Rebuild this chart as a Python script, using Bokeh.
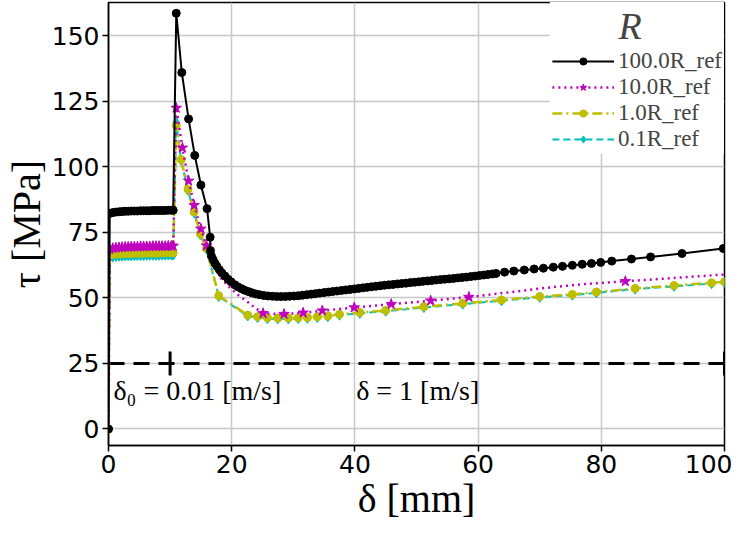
from bokeh.plotting import figure
from bokeh.models import ColumnDataSource, Legend, LegendItem, FixedTicker
from bokeh.embed import file_html
from bokeh.resources import INLINE
from bokeh.core.properties import value

# ---------------- data ----------------
x_ticks = [0, 20, 40, 60, 80, 100]
y_ticks = [0, 25, 50, 75, 100, 125, 150]

origin_x = [0.0]
origin_y = [0.0]

# slip during the low-velocity phase (shared by all four runs)
flat_x = [0.2, 0.7, 1.2, 1.7, 2.2, 2.7, 3.2, 3.7, 4.2, 4.7, 5.2, 5.7, 6.2, 6.7,
          7.2, 7.7, 8.2, 8.7, 9.2, 9.7, 10.2, 10.5]

# R = 100.0 R_ref
black_flat_y = [82.2, 82.5, 82.7, 82.8, 82.9, 83.0, 83.0, 83.1, 83.1, 83.1, 83.2,
                83.2, 83.2, 83.2, 83.3, 83.3, 83.3, 83.3, 83.3, 83.4, 83.4, 83.4]
black_rest_x = [11.0, 11.9, 13.0, 14.0, 15.0, 16.0, 16.5,
                16.55, 16.7, 17.0, 17.3, 17.6, 18.0, 18.4, 18.9, 19.4, 19.9,
                20.5, 21.0, 21.6, 22.1, 22.7, 23.3, 23.9, 24.5,
                25.2, 25.9, 26.6, 27.3, 28.0, 28.7, 29.4, 30.1, 30.8, 31.5,
                32.2, 32.9, 33.6, 34.3, 35.0, 35.7, 36.4, 37.1, 37.8, 38.5,
                39.2, 39.9, 40.6, 41.3, 42.0, 42.7, 43.4, 44.1, 44.8, 45.5,
                46.2, 46.9, 47.6, 48.3, 49.0, 49.7, 50.4, 51.1, 51.8, 52.5,
                53.2, 53.9, 54.6, 55.3, 56.0, 56.7, 57.4, 58.1, 58.8, 59.5,
                60.2, 60.9, 61.6, 62.3,
                62.9,
                64.3, 65.8, 67.5, 69.1, 70.6, 72.2, 73.7, 75.3, 76.9, 78.4,
                79.9, 81.7, 84.9, 88.0, 93.1, 99.8]
black_rest_y = [158.5, 135.9, 118.2, 104.3, 93.0, 84.0, 73.1,
                68.0, 66.0, 64.5, 63.1, 62.0, 60.7, 59.5, 58.3, 57.1, 56.1,
                55.0, 54.2, 53.5, 52.9, 52.4, 51.9, 51.5, 51.2,
                50.9, 50.7, 50.6, 50.5, 50.5, 50.5, 50.6, 50.7, 50.8, 51.0,
                51.2, 51.4, 51.6, 51.8, 52.0, 52.2, 52.4, 52.6, 52.8, 53.0,
                53.2, 53.4, 53.6, 53.8, 54.0, 54.2, 54.4, 54.6, 54.8, 54.95,
                55.1, 55.3, 55.45, 55.6, 55.8, 55.95, 56.1, 56.3, 56.45, 56.6,
                56.8, 56.95, 57.1, 57.25, 57.4, 57.6, 57.75, 57.9, 58.1, 58.3,
                58.5, 58.7, 58.9, 59.1,
                59.3,
                59.8, 60.2, 60.6, 61.0, 61.3, 61.7, 62.0, 62.4, 62.8, 63.1,
                63.5, 64.0, 64.8, 65.6, 66.9, 68.8]

# R = 10.0 R_ref
mag_flat_y = [68.6, 68.9, 69.1, 69.2, 69.3, 69.4, 69.4, 69.5, 69.5, 69.5, 69.6,
              69.6, 69.6, 69.6, 69.7, 69.7, 69.7, 69.7, 69.7, 69.8, 69.8, 69.8]
mag_rest_x = [11.0, 12.0, 13.0, 13.9, 15.0, 15.9, 17.0, 18.4, 19.8, 21.1, 22.7,
              23.9, 25.1, 28.5, 31.6, 34.7, 39.9, 45.9, 52.3, 58.5, 65.0, 71.0,
              77.0, 83.9, 100.0]
mag_rest_y = [122.4, 107.2, 94.6, 85.3, 76.3, 69.9, 62.5, 57.0, 53.6, 51.0, 48.2,
              46.0, 44.1, 43.8, 44.3, 45.1, 46.3, 47.6, 48.9, 50.3, 52.1, 53.8,
              55.2, 56.3, 58.9]
mag_rest_star = [1, 1, 1, 1, 1, 1, 0, 0, 0, 0, 0, 0, 1, 1, 1, 1, 1, 1, 1, 1, 0, 0,
                 0, 1, 0]

# R = 1.0 R_ref
oli_flat_y = [66.3, 66.5, 66.7, 66.8, 66.8, 66.9, 66.9, 66.9, 67.0, 67.0, 67.0,
              67.0, 67.1, 67.1, 67.1, 67.1, 67.1, 67.2, 67.2, 67.2, 67.2, 67.2]
oli_rest_x = [11.0, 11.8, 12.9, 13.9, 14.9, 15.9, 17.9, 22.6, 24.2, 25.8, 27.5,
              29.2, 30.8, 32.3, 33.9, 35.6, 37.5, 40.8, 45.0, 51.2, 57.5, 63.8,
              70.0, 75.3, 79.2, 85.5, 91.8, 97.9, 100.0]
oli_rest_y = [115.6, 102.7, 91.4, 82.7, 74.4, 68.8, 50.8, 43.4, 42.8, 42.4, 42.3,
              42.3, 42.4, 42.5, 42.8, 43.1, 43.7, 44.4, 45.2, 46.6, 47.9, 49.2,
              50.5, 51.3, 52.2, 53.6, 54.7, 55.7, 56.1]

# R = 0.1 R_ref
cya_flat_y = [65.4, 65.6, 65.8, 65.9, 65.9, 66.0, 66.0, 66.0, 66.1, 66.1, 66.1,
              66.1, 66.2, 66.2, 66.2, 66.2, 66.2, 66.3, 66.3, 66.3, 66.3, 66.3]
cya_rest_y = [116.8, 102.4, 91.0, 82.4, 74.1, 68.5, 50.5, 43.1, 42.5, 42.1, 42.0,
              42.0, 42.1, 42.2, 42.5, 42.8, 43.4, 44.1, 44.9, 46.3, 47.6, 48.9,
              50.2, 51.0, 51.9, 53.3, 54.4, 55.4, 55.8]

# velocity step annotation
vel_x = [0, 10, 100]
vel_y = 25
ann_x = [0.8, 40.2]
ann_y = [14.6, 14.6]
ann_text = ["δ₀ = 0.01 [m/s]", "δ = 1 [m/s]"]

labels = ["100.0R_ref", "10.0R_ref", "1.0R_ref", "0.1R_ref"]
legend_title = "R"

# ---------------- figure ----------------
SERIF = "Liberation Serif"
p = figure(width=732, height=523, x_range=(0, 100), y_range=(-6.3, 162.6),
           output_backend="svg", toolbar_location=None,
           min_border_left=99, min_border_right=8, min_border_top=2,
           min_border_bottom=60)
p.background_fill_color = "white"
p.outline_line_color = "black"
p.outline_line_width = 1.5
p.outline_line_alpha = 1

p.xaxis.ticker = FixedTicker(ticks=x_ticks)
p.yaxis.ticker = FixedTicker(ticks=y_ticks)
for ax in (p.xaxis[0], p.yaxis[0]):
    ax.axis_line_color = "black"
    ax.axis_line_width = 1.5
    ax.major_tick_line_color = "black"
    ax.major_tick_line_width = 1.5
    ax.major_tick_out = 6
    ax.major_tick_in = 0
    ax.minor_tick_out = 0
    ax.minor_tick_in = 0
    ax.major_label_text_font = "DejaVu Sans"
    ax.major_label_text_font_size = "25px"
    ax.major_label_text_color = "black"
    ax.major_label_standoff = 3
    ax.axis_label_text_font = SERIF
    ax.axis_label_text_font_size = "40px"
    ax.axis_label_text_font_style = "normal"
    ax.axis_label_text_color = "black"
    ax.axis_label_standoff = 0
p.xaxis.axis_label = "δ [mm]"
p.yaxis.axis_label = "τ [MPa]"
p.grid.grid_line_color = "#c8c8c8"
p.grid.grid_line_width = 1.5

# velocity-step line
p.line(x=[vel_x[0], vel_x[-1]], y=[vel_y, vel_y], line_color="black",
       line_width=3, line_dash="16 9")
p.scatter(x=vel_x, y=[vel_y] * len(vel_x), marker="dash", angle=1.5708,
          size=24, line_color="black", line_width=3)
p.text(x=ann_x, y=ann_y, text=ann_text, text_font=value(SERIF),
       text_font_size="28px", text_align="left", text_baseline="middle",
       text_color="black")

# series
k_x = origin_x + flat_x + black_rest_x
k_y = origin_y + black_flat_y + black_rest_y
m_x = origin_x + flat_x + mag_rest_x
m_y = origin_y + mag_flat_y + mag_rest_y
m_flag = [0] + [1] * len(flat_x) + mag_rest_star
o_x = origin_x + flat_x + oli_rest_x
o_y = origin_y + oli_flat_y + oli_rest_y
c_y = origin_y + cya_flat_y + cya_rest_y

COL_K, COL_M, COL_O, COL_C = "#000000", "#bf00bf", "#bfbf00", "#00bfbf"

c_line = p.line(o_x, c_y, line_color=COL_C, line_width=2, line_dash="7 4")
c_sc = p.scatter(o_x, c_y, marker="diamond", size=10, fill_color=COL_C,
                 line_color=COL_C)
o_line = p.line(o_x, o_y, line_color=COL_O, line_width=2.5, line_dash="10 4 2 4")
o_sc = p.scatter(o_x, o_y, marker="circle", size=8, fill_color=COL_O,
                 line_color=COL_O)
m_line = p.line(m_x, m_y, line_color=COL_M, line_width=2.5, line_dash="2 4")
ms_x = [a for a, f in zip(m_x, m_flag) if f]
ms_y = [b for b, f in zip(m_y, m_flag) if f]
m_sc = p.scatter(ms_x, ms_y, marker="star", size=11, fill_color=COL_M,
                 line_color=COL_M)
k_line = p.line(k_x, k_y, line_color=COL_K, line_width=2)
k_sc = p.scatter(k_x, k_y, marker="circle", size=8, fill_color=COL_K,
                 line_color=COL_K)

legend = Legend(items=[
    LegendItem(label=labels[0], renderers=[k_line, k_sc]),
    LegendItem(label=labels[1], renderers=[m_line, m_sc]),
    LegendItem(label=labels[2], renderers=[o_line, o_sc]),
    LegendItem(label=labels[3], renderers=[c_line, c_sc]),
], location="top_right", title="\u00a0" * 7 + legend_title)
legend.label_text_font = SERIF
legend.label_text_font_size = "23px"
legend.title_text_font = SERIF
legend.title_text_font_size = "38px"
legend.title_text_font_style = "italic"
legend.title_standoff = 0
legend.background_fill_color = "white"
legend.background_fill_alpha = 1
legend.border_line_alpha = 0
legend.glyph_width = 62
legend.glyph_height = 18
legend.label_height = 18
legend.label_standoff = 4
legend.spacing = -4
legend.padding = 2
legend.margin = 0
p.add_layout(legend)

open("out.html", "w").write(file_html(p, INLINE))
